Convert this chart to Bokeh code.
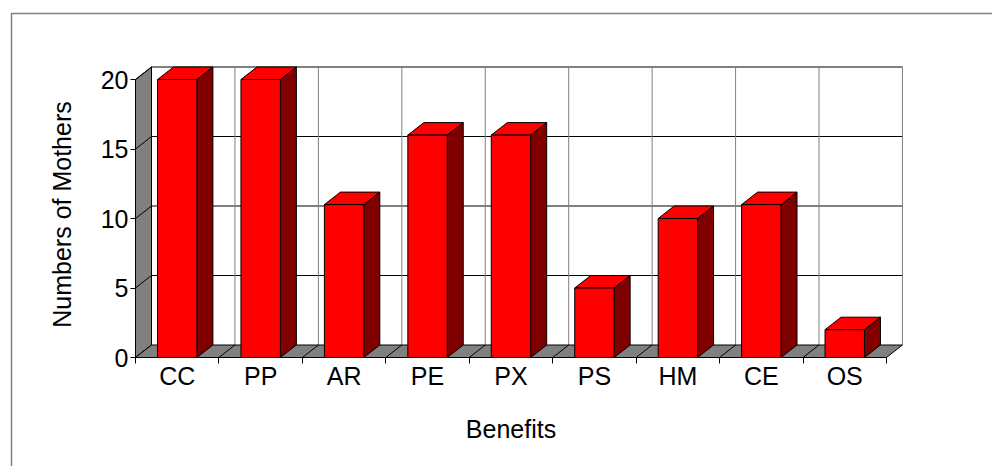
from bokeh.embed import file_html
from bokeh.models import FixedTicker, Range1d
from bokeh.plotting import figure
from bokeh.resources import INLINE

# ---- data -------------------------------------------------------------
categories = ["CC", "PP", "AR", "PE", "PX", "PS", "HM", "CE", "OS"]
mothers = [20, 20, 11, 16, 16, 5, 10, 11, 2]
y_ticks = [0, 5, 10, 15, 20]
y_max = 20

# ---- layout (pixels) --------------------------------------------------
W, H = 992, 466
ORIGIN_X = 135          # pixel column of x = 0 (front-left corner)
ORIGIN_Y = 357          # pixel row of y = 0 (front baseline)
PX_PER_CAT = 83.44      # width of one category slot
PX_PER_UNIT = 13.9      # height of one mother
TOP_MARGIN = 71         # keeps the value-axis title centred on the wall

FONT = "Liberation Sans"
FONT_SIZE = "25px"

n = len(categories)
frame_w = round(n * PX_PER_CAT)
frame_h = ORIGIN_Y - TOP_MARGIN
RIGHT_MARGIN = W - ORIGIN_X - frame_w


def px_x(px):
    return (px - ORIGIN_X) / PX_PER_CAT


def px_y(py):
    return (ORIGIN_Y - py) / PX_PER_UNIT


# 3-D depth offset and bar width, expressed in data units
DX = 16 / PX_PER_CAT
DY = 12.5 / PX_PER_UNIT
BAR_W = 39.4 / PX_PER_CAT

p = figure(
    width=W, height=H,
    x_range=Range1d(0, frame_w / PX_PER_CAT),
    y_range=Range1d(0, frame_h / PX_PER_UNIT),
    output_backend="svg", toolbar_location=None,
    min_border_left=ORIGIN_X, min_border_right=RIGHT_MARGIN,
    min_border_top=TOP_MARGIN, min_border_bottom=H - ORIGIN_Y,
    background_fill_color="white", border_fill_color="white",
)
p.outline_line_color = None
p.grid.visible = False

renderers = []

# ---- walls and floor ---------------------------------------------------
# back wall: horizontal value gridlines (black) and category gridlines (grey)
for t in y_ticks[1:]:
    renderers.append(p.line([DX, n + DX], [t + DY, t + DY],
                            line_color="black", line_width=1))
for i in range(1, n + 1):
    renderers.append(p.line([i + DX, i + DX], [DY, y_max + DY],
                            line_color="#808080", line_width=1))

# left side wall
renderers.append(p.patch([0, DX, DX, 0], [0, DY, y_max + DY, y_max],
                         fill_color="#808080", line_color="black", line_width=1))
for t in y_ticks:
    renderers.append(p.line([0, DX], [t, t + DY], line_color="black", line_width=1))

# floor
renderers.append(p.patch([0, DX, n + DX, n], [0, DY, DY, 0],
                         fill_color="#808080", line_color="black", line_width=1))
for i in range(1, n):
    renderers.append(p.line([i, i + DX], [0, DY], line_color="black", line_width=1))

# ---- 3-D columns -------------------------------------------------------
front_xs, front_ys, side_xs, side_ys, top_xs, top_ys = [], [], [], [], [], []
for i, v in enumerate(mothers):
    c = i + 0.5
    xl, xr = c - BAR_W / 2, c + BAR_W / 2
    front_xs.append([xl, xr, xr, xl])
    front_ys.append([0, 0, v, v])
    side_xs.append([xr, xr + DX, xr + DX, xr])
    side_ys.append([0, DY, v + DY, v])
    top_xs.append([xl, xr, xr + DX, xl + DX])
    top_ys.append([v, v, v + DY, v + DY])

renderers.append(p.patches(side_xs, side_ys, fill_color="#800000",
                           line_color="black", line_width=1))
renderers.append(p.patches(top_xs, top_ys, fill_color="#FF0000",
                           line_color="black", line_width=1))
renderers.append(p.patches(front_xs, front_ys, fill_color="#FF0000",
                           line_color="black", line_width=1))

# ---- chart-area border (left and top edges of the outer box) -----------
renderers.append(p.line([px_x(11), px_x(11), px_x(W + 40)],
                        [px_y(H + 40), px_y(13), px_y(13)],
                        line_color="#808080", line_width=1.5))

# the 3-D walls reach past the plotting frame, so draw them unclipped
for r in renderers:
    r.level = "overlay"

# ---- axes --------------------------------------------------------------
xa = p.xaxis[0]
xa.ticker = FixedTicker(ticks=[i + 0.5 for i in range(n)],
                        minor_ticks=list(range(n + 1)))
xa.major_label_overrides = {i + 0.5: c for i, c in enumerate(categories)}
xa.bounds = (0, n)
xa.major_tick_out = 0
xa.major_tick_in = 0
xa.minor_tick_out = 6
xa.minor_tick_in = 0
xa.minor_tick_line_color = "black"
xa.axis_line_color = "black"
xa.major_label_standoff = -2
xa.major_label_text_font = FONT
xa.major_label_text_font_size = FONT_SIZE
xa.major_label_text_color = "black"
xa.axis_label = "Benefits"
xa.axis_label_standoff = 22
xa.axis_label_text_font = FONT
xa.axis_label_text_font_size = FONT_SIZE
xa.axis_label_text_font_style = "normal"
xa.axis_label_text_color = "black"

ya = p.yaxis[0]
ya.ticker = FixedTicker(ticks=y_ticks, minor_ticks=[])
ya.bounds = (0, y_max)
ya.major_tick_out = 5
ya.major_tick_in = 0
ya.major_tick_line_color = "black"
ya.axis_line_color = "black"
ya.major_label_standoff = 2
ya.major_label_text_font = FONT
ya.major_label_text_font_size = FONT_SIZE
ya.major_label_text_color = "black"
ya.axis_label = "Numbers of Mothers"
ya.axis_label_standoff = 22
ya.axis_label_text_font = FONT
ya.axis_label_text_font_size = FONT_SIZE
ya.axis_label_text_font_style = "normal"
ya.axis_label_text_color = "black"

open("out.html", "w").write(file_html(p, INLINE))
